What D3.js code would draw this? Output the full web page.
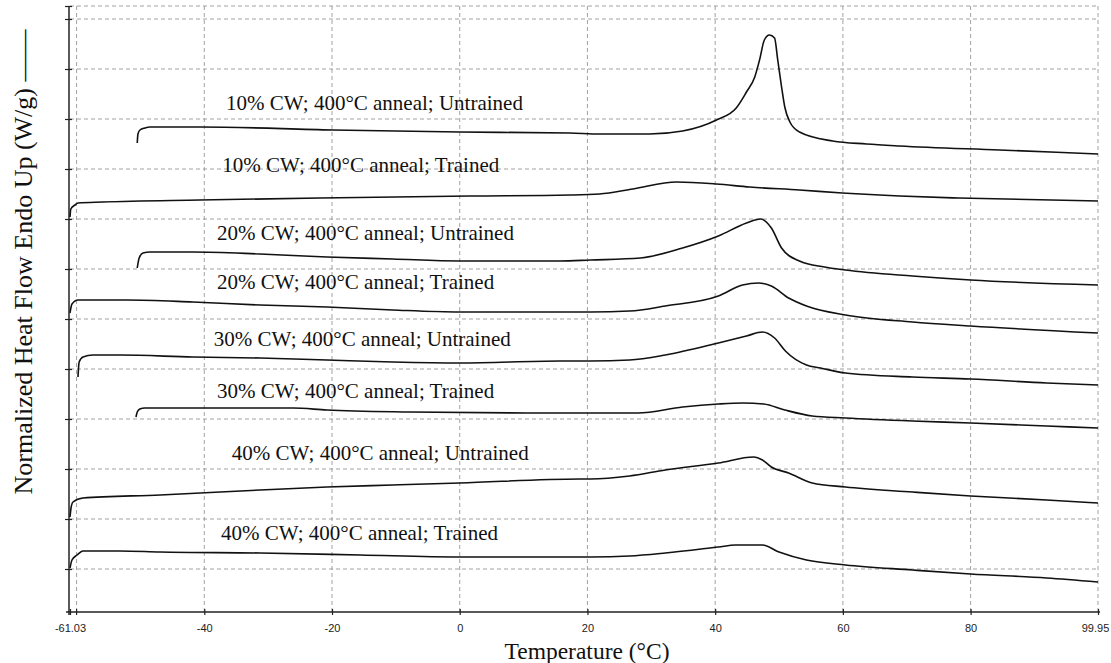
<!DOCTYPE html>
<html>
<head>
<meta charset="utf-8">
<script src="https://cdn.jsdelivr.net/npm/d3@7"></script>
<style>
  html, body { margin: 0; padding: 0; background: #fff; }
  svg { display: block; }
</style>
</head>
<body>
<svg id="chart" width="1111" height="663"></svg>
<script>
// ---------- DATA (temperature °C, normalized heat flow, arbitrary offset units) ----------
const cw10Untrained = [[-50.5,9.52],[-50.39,9.70],[-50.08,9.78],[-49.3,9.82],[-48.5,9.84],[-40.7,9.84],[-19.9,9.78],[0.0,9.74],[17.2,9.72],[21.9,9.70],[29.7,9.70],[34.9,9.76],[40.2,9.98],[43.3,10.22],[44.9,10.54],[46.2,10.84],[46.95,11.18],[47.7,11.58],[48.5,11.68],[49.3,11.62],[49.8,11.18],[50.4,10.64],[50.9,10.24],[51.7,9.94],[53.2,9.74],[58.4,9.56],[63.7,9.50],[68.9,9.46],[84.5,9.38],[99.95,9.30]];
const cw10Trained = [[-61.03,8.04],[-60.9,8.20],[-60.25,8.28],[-59.78,8.32],[-55.9,8.34],[-40.7,8.38],[-21.9,8.42],[1.6,8.46],[17.2,8.48],[21.9,8.50],[27.1,8.60],[33.96,8.74],[40.2,8.70],[45.4,8.64],[53.2,8.58],[59.9,8.52],[68.9,8.46],[78.1,8.42],[99.95,8.36]];
const cw20Untrained = [[-50.5,7.02],[-50.2,7.22],[-49.6,7.32],[-48.5,7.34],[-41.8,7.34],[-31.3,7.30],[-20.8,7.24],[-10.5,7.20],[0.0,7.16],[15.65,7.16],[20.5,7.18],[28.3,7.22],[34.9,7.42],[40.5,7.66],[44.9,7.92],[47.1,8.00],[48.8,7.82],[50.4,7.42],[53.2,7.16],[57.1,7.04],[60.4,6.98],[70.9,6.86],[80.0,6.78],[99.95,6.68]];
const cw20Trained = [[-61.03,6.12],[-60.72,6.30],[-59.78,6.38],[-56.3,6.38],[-52.1,6.38],[-41.8,6.34],[-31.3,6.28],[-20.8,6.24],[-10.5,6.18],[0.0,6.14],[20.5,6.14],[26.6,6.16],[32.2,6.26],[40.5,6.46],[44.3,6.68],[46.8,6.72],[48.8,6.66],[51.5,6.42],[54.3,6.26],[60.4,6.08],[70.9,5.94],[80.0,5.86],[99.95,5.72]];
const cw30Untrained = [[-59.78,4.84],[-59.6,5.14],[-59.0,5.24],[-57.43,5.28],[-53.2,5.28],[-41.8,5.24],[-31.3,5.22],[-20.8,5.18],[-10.5,5.14],[0.0,5.12],[15.65,5.16],[20.5,5.16],[26.6,5.18],[32.2,5.28],[40.5,5.52],[44.9,5.66],[47.4,5.74],[49.3,5.62],[51.0,5.36],[54.3,5.08],[56.5,5.02],[60.4,4.92],[70.9,4.84],[80.0,4.80],[91.9,4.72],[99.95,4.68]];
const cw30Trained = [[-50.7,4.04],[-50.5,4.14],[-50.1,4.20],[-49.3,4.22],[-26.1,4.22],[-20.8,4.18],[-7.8,4.14],[10.5,4.12],[20.5,4.12],[27.9,4.12],[34.9,4.24],[40.5,4.30],[44.3,4.32],[47.6,4.30],[50.9,4.18],[55.2,4.06],[60.4,4.02],[70.9,3.96],[80.0,3.92],[91.9,3.86],[99.95,3.82]];
const cw40Untrained = [[-61.03,2.04],[-60.87,2.22],[-60.56,2.34],[-59.0,2.42],[-46.9,2.48],[-31.3,2.58],[-20.8,2.64],[-10.5,2.68],[0.0,2.72],[18.8,2.80],[20.5,2.80],[26.6,2.86],[32.2,2.98],[40.5,3.12],[46.0,3.24],[47.4,3.18],[48.8,3.04],[51.5,2.92],[55.2,2.72],[60.4,2.64],[70.9,2.54],[80.0,2.46],[91.9,2.38],[99.95,2.32]];
const cw40Trained = [[-61.03,1.02],[-60.72,1.18],[-59.93,1.28],[-59.0,1.36],[-53.2,1.36],[-46.9,1.34],[-31.3,1.32],[-15.6,1.28],[0.0,1.24],[20.5,1.24],[26.6,1.26],[32.2,1.32],[40.5,1.44],[43.2,1.48],[47.4,1.48],[50.0,1.34],[54.3,1.18],[60.4,1.08],[70.9,0.98],[80.0,0.90],[91.9,0.82],[99.95,0.74]];

const seriesList = [cw10Untrained, cw10Trained, cw20Untrained, cw20Trained, cw30Untrained, cw30Trained, cw40Untrained, cw40Trained];
const seriesLabels = [
  "10% CW; 400°C anneal; Untrained",
  "10% CW; 400°C anneal; Trained",
  "20% CW; 400°C anneal; Untrained",
  "20% CW; 400°C anneal; Trained",
  "30% CW; 400°C anneal; Untrained",
  "30% CW; 400°C anneal; Trained",
  "40% CW; 400°C anneal; Untrained",
  "40% CW; 400°C anneal; Trained"
];
// label anchors in data coordinates (temperature, heat flow)
const labelAnchors = [[-36.6,10.18],[-37.2,8.94],[-38.0,7.58],[-38.0,6.60],[-38.5,5.46],[-38.0,4.42],[-35.7,3.18],[-37.4,1.58]];

const xTickValues = [-61.03, -40, -20, 0, 20, 40, 60, 80, 99.95];
const xTickLabels = ["-61.03", "-40", "-20", "0", "20", "40", "60", "80", "99.95"];
const xGridValues = [-60, -40, -20, 0, 20, 40, 60, 80, 99.95];
const yGridValues = [1, 2, 3, 4, 5, 6, 7, 8, 9, 10, 11, 12, 12.26];

const xTitle = "Temperature (°C)";
const yTitle = "Normalized Heat Flow Endo Up (W/g) ——";

// ---------- SCALES ----------
const svg = d3.select("#chart");
const x = d3.scaleLinear().domain([-61.03, 99.95]).range([70, 1098]);
const y = d3.scaleLinear().domain([0, 12]).range([619, 19]);
const yBottom = 612, yTop = 6;

// ---------- GRID ----------
const grid = svg.append("g").attr("stroke", "#8a8a8a").attr("stroke-width", 0.8)
  .attr("stroke-dasharray", "4,3").attr("fill", "none");
grid.selectAll("line.h").data(yGridValues).join("line").attr("class", "h")
  .attr("x1", x(-61.03)).attr("x2", x(99.95))
  .attr("y1", d => y(d)).attr("y2", d => y(d));
grid.selectAll("line.v").data(xGridValues).join("line").attr("class", "v")
  .attr("x1", d => x(d)).attr("x2", d => x(d))
  .attr("y1", yTop).attr("y2", yBottom);

// ---------- AXES ----------
const xAxis = d3.axisBottom(x).tickValues(xTickValues)
  .tickFormat((d, i) => xTickLabels[i]).tickSizeInner(3).tickSizeOuter(0).tickPadding(9);
const gx = svg.append("g").attr("transform", `translate(0,${yBottom})`).call(xAxis);
gx.select(".domain").attr("stroke", "#222").attr("stroke-width", 1.5)
  .attr("d", `M${x(-61.03) - 4},0H${x(99.95) + 2}`);
gx.selectAll(".tick line").attr("y1", -3).attr("stroke", "#222").attr("stroke-width", 1.2);
gx.selectAll(".tick text").attr("font-family", "Liberation Sans, Arial, sans-serif")
  .attr("font-size", 11).attr("fill", "#222");
gx.selectAll(".tick").filter(d => d === 99.95).select("text").attr("dx", -3);
// extra minor tick at -60
gx.append("line").attr("x1", x(-60)).attr("x2", x(-60)).attr("y1", -3).attr("y2", 3)
  .attr("stroke", "#222").attr("stroke-width", 1.2);

const yAxis = d3.axisLeft(y).tickValues(yGridValues).tickFormat("").tickSizeInner(4).tickSizeOuter(0);
const gy = svg.append("g").attr("transform", `translate(${x(-61.03) - 1},0)`).call(yAxis);
gy.select(".domain").attr("stroke", "#222").attr("stroke-width", 1.5)
  .attr("d", `M0,${yTop}V${yBottom + 3}`);
gy.selectAll(".tick line").attr("x1", 3).attr("stroke", "#222").attr("stroke-width", 1.2);

// ---------- CURVES ----------
const line = d3.line().x(d => x(d[0])).y(d => y(d[1])).curve(d3.curveMonotoneX);
svg.append("g").selectAll("path").data(seriesList).join("path")
  .attr("d", line).attr("fill", "none").attr("stroke", "#111")
  .attr("stroke-width", 1.6).attr("stroke-linejoin", "round");

// ---------- LABELS ----------
svg.append("g").selectAll("text").data(seriesLabels).join("text")
  .attr("x", (d, i) => x(labelAnchors[i][0]))
  .attr("y", (d, i) => y(labelAnchors[i][1]))
  .attr("font-family", "Liberation Serif, 'Times New Roman', serif")
  .attr("font-size", 21).attr("fill", "#111")
  .text(d => d);

// ---------- TITLES ----------
svg.append("text").attr("x", 587).attr("y", 659).attr("text-anchor", "middle")
  .attr("font-family", "Liberation Serif, 'Times New Roman', serif")
  .attr("font-size", 23.5).attr("fill", "#111").text(xTitle);

svg.append("text").attr("transform", "translate(32,262) rotate(-90)")
  .attr("text-anchor", "middle")
  .attr("font-family", "Liberation Serif, 'Times New Roman', serif")
  .attr("font-size", 26).attr("fill", "#111").text(yTitle);
</script>
</body>
</html>
